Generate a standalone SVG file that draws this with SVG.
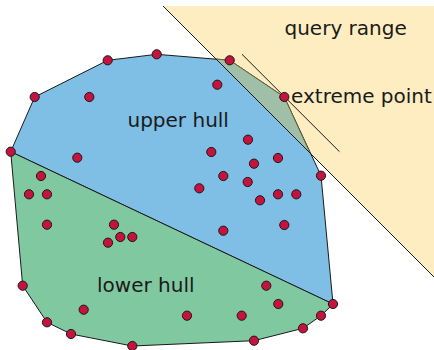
<svg xmlns="http://www.w3.org/2000/svg" width="434" height="350" viewBox="0 0 434 350">
<style>
.pt{fill:#c4133f;stroke:#1a1a1a;stroke-width:1}
.lbl{font-family:"DejaVu Sans",sans-serif;font-size:20px;fill:#1a1a1a}
.edge{stroke:#1a1a1a;stroke-width:1;fill:none}
</style>
<defs>
<circle id="p" r="4.6" class="pt"/>
</defs>
<rect width="434" height="350" fill="#ffffff"/>
<g id="query-range">
<polygon points="163,6 434,6 434,277" fill="#fdedc0"/>
</g>
<g id="upper-hull">
<polygon points="10.7,151.7 34.7,97 107.7,60.3 156.7,54.3 229.7,60.3 284.3,97 321,175.7 333,304" fill="#7fbee5" stroke="#1a1a1a" stroke-width="1"/>
</g>
<g id="lower-hull">
<polygon points="10.7,151.7 333,304 321,315.7 303,328.3 254,340.7 132.3,346 71,334 47,322.3 22.7,285.7" fill="#80c8a0" stroke="#1a1a1a" stroke-width="1"/>
</g>
<g id="overlap">
<polygon points="216,59 229.7,60.3 284.3,97 310.2,153.2" fill="#a0bfa8"/>
<polyline points="216,59 229.7,60.3 284.3,97 310.2,153.2" fill="none" stroke="#6e6235" stroke-width="1"/>
</g>
<g id="connectors">
<line class="edge" x1="163" y1="6" x2="434" y2="277"/>
<line class="edge" x1="242" y1="54.3" x2="339.5" y2="151.7"/>
</g>
<g id="points">
<use href="#p" x="10.7" y="151.7"/>
<use href="#p" x="34.7" y="97"/>
<use href="#p" x="107.7" y="60.3"/>
<use href="#p" x="156.7" y="54.3"/>
<use href="#p" x="229.7" y="60.3"/>
<use href="#p" x="284.3" y="97"/>
<use href="#p" x="321" y="175.7"/>
<use href="#p" x="333" y="304"/>
<use href="#p" x="321" y="315.7"/>
<use href="#p" x="303" y="328.3"/>
<use href="#p" x="254" y="340.7"/>
<use href="#p" x="132.3" y="346"/>
<use href="#p" x="71" y="334"/>
<use href="#p" x="47" y="322.3"/>
<use href="#p" x="22.7" y="285.7"/>
<use href="#p" x="89.3" y="97"/>
<use href="#p" x="217.3" y="84.7"/>
<use href="#p" x="77.3" y="157.7"/>
<use href="#p" x="211.3" y="152"/>
<use href="#p" x="248" y="139.7"/>
<use href="#p" x="278" y="158"/>
<use href="#p" x="254" y="163.7"/>
<use href="#p" x="223.3" y="176"/>
<use href="#p" x="247.7" y="182"/>
<use href="#p" x="199.3" y="188.3"/>
<use href="#p" x="278" y="194.3"/>
<use href="#p" x="296.3" y="194.3"/>
<use href="#p" x="260" y="200.3"/>
<use href="#p" x="284.3" y="225"/>
<use href="#p" x="223.3" y="230.7"/>
<use href="#p" x="41" y="176"/>
<use href="#p" x="29" y="194.3"/>
<use href="#p" x="47" y="194.3"/>
<use href="#p" x="47" y="224.7"/>
<use href="#p" x="114" y="224.7"/>
<use href="#p" x="120.3" y="237"/>
<use href="#p" x="132.3" y="237"/>
<use href="#p" x="108" y="242.7"/>
<use href="#p" x="83.7" y="309.7"/>
<use href="#p" x="187" y="315.7"/>
<use href="#p" x="266.3" y="285.7"/>
<use href="#p" x="278.3" y="304"/>
<use href="#p" x="241.7" y="315.7"/>
</g>
<g id="labels">
<text class="lbl" x="127.5" y="126.7">upper hull</text>
<text class="lbl" x="97" y="291.7">lower hull</text>
<text class="lbl" x="284.5" y="35">query range</text>
<text class="lbl" x="291" y="103.3">extreme point</text>
</g>
</svg>
